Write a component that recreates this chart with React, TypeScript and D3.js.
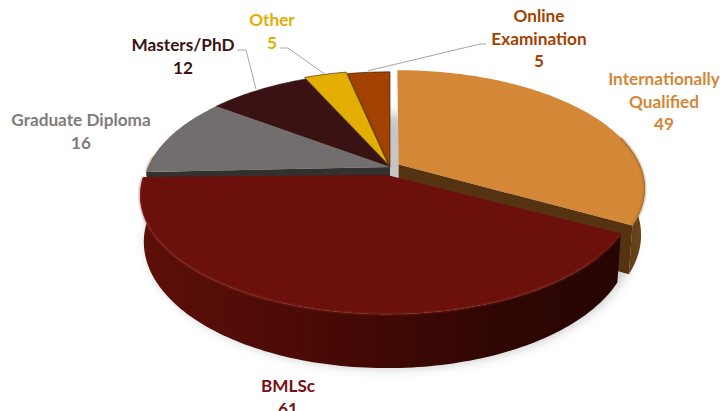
/**
 * Exploded 3D pie - qualification routes
 */

import React from 'react';
import * as d3 from 'd3';

const categories = ['Internationally Qualified', 'BMLSc', 'Graduate Diploma', 'Masters/PhD', 'Other', 'Online Examination'];
const values = [49, 61, 16, 12, 5, 5];

const topColors = ['#d38737', '#6b100b', '#726e6d', '#3b1213', '#e3ae00', '#a34100'];
const textColors = ['#d38737', '#7b0e10', '#7f7b7a', '#3b1213', '#e3ae00', '#a34100'];
const explode = [0.042, 0, 0, 0, 0.02, 0];
// BMLSc is pulled towards the viewer on screen
const nudgeX = [0, -3, 0, 0, 0, 0];
const nudgeY = [0, 5, 0, 0, 0, 0];
const apexDrop = [0, 3, 0, 0, 0, 0];

// label text lines + where they sit, same order as categories
const labelLines = [['Internationally', 'Qualified'], ['BMLSc'], ['Graduate Diploma'], ['Masters/PhD'], ['Other'], ['Online', 'Examination']];
const labelX = [664, 288, 81, 183, 272, 539];
const labelY = [85, 392, 126, 51, 26, 22];
const leaders: [number, number, number, number][] = [
  [246, 50, 237, 50],
  [288, 48, 280, 48],
  [480, 44, 486, 44],
];
const leaderIndex = [3, 4, 5];

const width = 724;
const height = 411;
const cx = 390;
const cy = 167;
const rx = 242;
const ry = 114;
const persp = 0.198;
const depth = 45;
const TAU = Math.PI * 2;

type Pt = [number, number];

// disk coords -> screen, with simple perspective so the front looks bigger
function project(u: number, v: number, z = 0): Pt {
  const s = 1 / (1 - persp * v);
  const k = z > 0 ? 0.985 : 1;
  return [cx + rx * u * s * k, cy + (ry * v * k + z) * s];
}

function rimPoint(a: number, r = 1): Pt {
  return project(r * Math.sin(a), -r * Math.cos(a));
}

const pathOf = d3.line<Pt>();

function sweep(a0: number, a1: number) {
  const n = Math.max(4, Math.ceil(Math.abs(a1 - a0) / 0.02));
  return d3.range(n + 1).map(i => a0 + ((a1 - a0) * i) / n);
}

function slicePts(a0: number, a1: number, e: number, z = 0): Pt[] {
  const mid = (a0 + a1) / 2;
  const du = e * Math.sin(mid);
  const dv = -e * Math.cos(mid);
  const at = (a: number, r: number): Pt => project(r * Math.sin(a) + du, -r * Math.cos(a) + dv, z);
  return [at(0, 0), ...sweep(a0, a1).map(a => at(a, 1))];
}

function rimPts(a0: number, a1: number, e: number, mid: number, z = 0): Pt[] {
  const du = e * Math.sin(mid);
  const dv = -e * Math.cos(mid);
  return sweep(a0, a1).map(a => project(Math.sin(a) + du, -Math.cos(a) + dv, z));
}

function App() {
  const arcs = d3.pie<number>().sort(null).value(d => d)(values);
  const order = [5, 4, 3, 2, 0, 1];

  return (
    <svg width={width} height={height} style={{ position: 'absolute', left: 0, top: 0 }} fontFamily="Lato, Carlito, sans-serif">
      <defs>
        <filter id="shadow" x="-10%" y="-20%" width="120%" height="140%">
          <feGaussianBlur stdDeviation="6" />
        </filter>
        <filter id="soft" x="-5%" y="-5%" width="110%" height="110%">
          <feGaussianBlur stdDeviation="0.8" />
        </filter>
        <linearGradient id="wall1" gradientUnits="userSpaceOnUse" x1="137" x2="622" y1="0" y2="0">
          <stop offset="0" stopColor="#5e0f09" />
          <stop offset="0.45" stopColor="#450905" />
          <stop offset="0.75" stopColor="#2f0603" />
          <stop offset="1" stopColor="#260503" />
        </linearGradient>
        <linearGradient id="wall0" gradientUnits="userSpaceOnUse" x1="610" x2="650" y1="0" y2="0">
          <stop offset="0" stopColor="#553311" />
          <stop offset="1" stopColor="#6e4a1c" />
        </linearGradient>
      </defs>

      {/* soft shadow under the whole pie */}
      <path
        d={pathOf(slicePts(0, TAU, 0, depth + 4)) || ''}
        fill="#000"
        opacity={0.22}
        filter="url(#shadow)"
      />

      {order.map(i => {
        const a = arcs[i];
        const e = explode[i];
        const mid = (a.startAngle + a.endAngle) / 2;
        const top = slicePts(a.startAngle, a.endAngle, e);
        // only the part of the rim that faces the viewer gets a wall
        const w0 = Math.max(a.startAngle, Math.PI * 0.42);
        const w1 = Math.min(a.endAngle, Math.PI * 1.53);
        const hasWall = w1 > w0;
        const upper = hasWall ? rimPts(w0, w1, e, mid) : [];
        const lower = hasWall ? rimPts(w0, w1, e, mid, depth).reverse() : [];
        const apexLow = slicePts(a.startAngle, a.endAngle, e, depth)[0];
        const cornerTop = top[top.length - 1];
        const cornerLow = slicePts(a.startAngle, a.endAngle, e, depth).slice(-1)[0];
        const face: Pt[] = [[top[0][0], top[0][1] + apexDrop[i]], ...top.slice(1)];
        return (
          <g key={categories[i]} transform={`translate(${nudgeX[i]},${nudgeY[i]})`}>
            {hasWall && <path d={pathOf([...upper, ...lower]) + 'Z'} fill={`url(#wall${i})`} />}
            {/* cut face along the clockwise edge */}
            {(i === 0 || i === 2) && (
              <path
                d={pathOf(
                  i === 0
                    ? [top[0], cornerTop, cornerLow, apexLow]
                    : [top[0], top[1], project(-1, 0.042, depth), apexLow],
                ) + 'Z'}
                fill={i === 0 ? '#553311' : '#333130'}
              />
            )}
            <path
              d={pathOf(face) + 'Z'}
              fill={topColors[i]}
              stroke={i >= 3 ? '#2a1408' : 'none'}
              strokeWidth={i >= 3 ? 0.6 : 0}
            />
            {hasWall && (
              <path
                d={pathOf(rimPts(w0, w1, e, mid)) || ''}
                fill="none"
                stroke={i === 1 ? '#8c3027' : '#7a5320'}
                strokeWidth={1.4}
                opacity={0.75}
                filter="url(#soft)"
              />
            )}
          </g>
        );
      })}

      {leaderIndex.map((idx, k) => {
        const a = arcs[idx];
        const m = (a.startAngle + a.endAngle) / 2;
        const [x1, y1, x2, y2] = leaders[k];
        const tip = rimPoint(m, 1.02);
        return (
          <polyline
            key={idx}
            points={`${x2},${y2} ${x1},${y1} ${tip[0]},${tip[1]}`}
            fill="none"
            stroke="#a6a6a6"
            strokeWidth={1}
          />
        );
      })}

      {categories.map((c, i) => (
        <text key={c} x={labelX[i]} y={labelY[i]} textAnchor="middle" fontSize={17.2} fontWeight={700} fill={textColors[i]}>
          {labelLines[i].map((line, j) => (
            <tspan key={line} x={labelX[i]} dy={j === 0 ? 0 : 22.7}>
              {line}
            </tspan>
          ))}
          <tspan x={labelX[i]} dy={22.7}>
            {values[i]}
          </tspan>
        </text>
      ))}
    </svg>
  );
}

export default App;
